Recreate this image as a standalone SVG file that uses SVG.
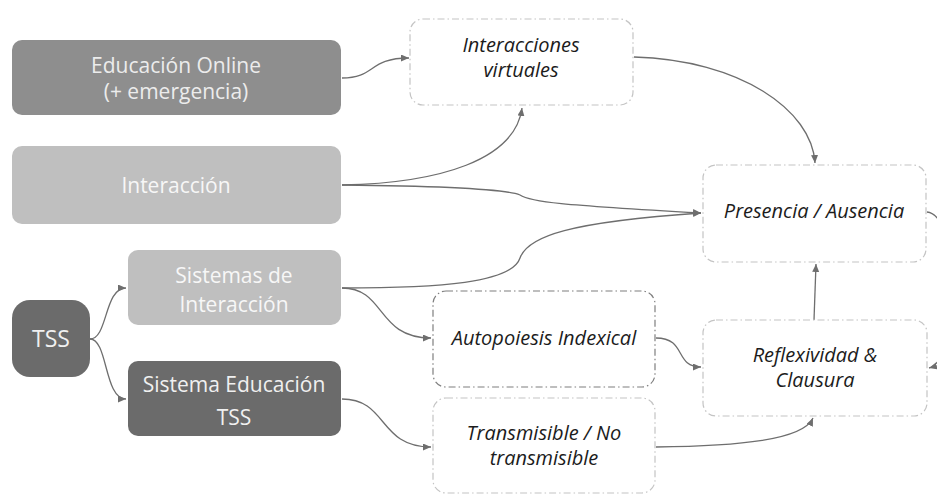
<svg xmlns="http://www.w3.org/2000/svg" width="937" height="495" viewBox="0 0 937 495">
<style>
.solid{stroke:none}
.dark{fill:#6b6b6b}
.mid{fill:#8e8e8e}
.light{fill:#bfbfbf}
.lt{font-family:"Open Sans","Noto Sans","DejaVu Sans",sans-serif;font-size:21px;text-anchor:middle}
.wt1{fill:#f0f0f0}
.wt2{fill:#ececec}
.wt3{fill:#f7f7f7}
.dd{fill:#ffffff;stroke:#c4c4c4;stroke-width:1.2;stroke-dasharray:7 3 1.5 3}
.dd2{fill:#ffffff;stroke:#7f7f7f;stroke-width:1.2;stroke-dasharray:7 3 1.5 3}
.it{font-family:"Open Sans","Noto Sans","DejaVu Sans",sans-serif;font-size:20px;font-style:italic;text-anchor:middle;fill:#1c1c1c}
.c{fill:none;stroke:#6e6e6e;stroke-width:1.3;marker-end:url(#ah)}
</style>
<defs>
<marker id="ah" markerUnits="userSpaceOnUse" markerWidth="9" markerHeight="8" refX="8" refY="3.5" orient="auto">
<path d="M0,0 L8,3.5 L0,7 z" fill="#6e6e6e"/>
</marker>
</defs>
<rect width="937" height="495" fill="#ffffff"/>

<g id="connectors">
<path class="c" d="M342,78 C376,78 368,58 409,58"/>
<path class="c" d="M342,185 C440,183 515,160 522,108"/>
<path class="c" d="M342,185 C440,186 505,189 520,195 C530,202 560,205 701,213"/>
<path class="c" d="M342,288 C440,288 512,283 520,258 C528,236 570,222 701,213"/>
<path class="c" d="M342,288 C386,288 376,338 431,338"/>
<path class="c" d="M90,339 C108,339 104,288 126,288"/>
<path class="c" d="M90,339 C108,339 104,399 126,399"/>
<path class="c" d="M342,399 C388,399 378,447 431,447"/>
<path class="c" d="M634,57 C740,60 812,110 815,163"/>
<path class="c" d="M656,338 C687,338 674,367 701,367"/>
<path class="c" d="M656,447 C740,446 803,440 813,418"/>
<path class="c" d="M814,320 L816,264"/>
<path class="c" d="M927,212 C962,216 960,360 929,368"/>
</g>

<g id="educacion-online">
<rect class="mid" x="12" y="40" width="329" height="75" rx="10"/>
<text class="lt wt2" x="176" y="73">Educación Online</text>
<text class="lt wt2" x="176" y="99">(+ emergencia)</text>
</g>
<g id="interaccion">
<rect class="light" x="12" y="146" width="329" height="78" rx="10"/>
<text class="lt wt3" x="176" y="193">Interacción</text>
</g>
<g id="tss">
<rect class="dark" x="12" y="300" width="78" height="77" rx="18"/>
<text class="lt wt1" x="51" y="347" style="font-size:23px">TSS</text>
</g>
<g id="sistemas-interaccion">
<rect class="light" x="128" y="250" width="213" height="75" rx="10"/>
<text class="lt wt3" x="234" y="283">Sistemas de</text>
<text class="lt wt3" x="234" y="312">Interacción</text>
</g>
<g id="sistema-educacion">
<rect class="dark" x="128" y="361" width="213" height="75" rx="10"/>
<text class="lt wt1" x="234" y="392">Sistema Educación</text>
<text class="lt wt1" x="234" y="425">TSS</text>
</g>
<g id="interacciones-virtuales">
<rect class="dd" x="410" y="19" width="223" height="86" rx="13"/>
<text class="it" x="521" y="52">Interacciones</text>
<text class="it" x="521" y="77">virtuales</text>
</g>
<g id="presencia-ausencia">
<rect class="dd" x="703" y="165" width="223" height="97" rx="13"/>
<text class="it" x="814" y="218">Presencia / Ausencia</text>
</g>
<g id="autopoiesis">
<rect class="dd2" x="433" y="291" width="222" height="96" rx="13"/>
<text class="it" x="544" y="345">Autopoiesis Indexical</text>
</g>
<g id="transmisible">
<rect class="dd" x="433" y="398" width="222" height="95" rx="13"/>
<text class="it" x="544" y="440">Transmisible / No</text>
<text class="it" x="544" y="465">transmisible</text>
</g>
<g id="reflexividad">
<rect class="dd" x="703" y="320" width="224" height="96" rx="13"/>
<text class="it" x="815" y="362">Reflexividad &amp;</text>
<text class="it" x="815" y="387">Clausura</text>
</g>
</svg>
